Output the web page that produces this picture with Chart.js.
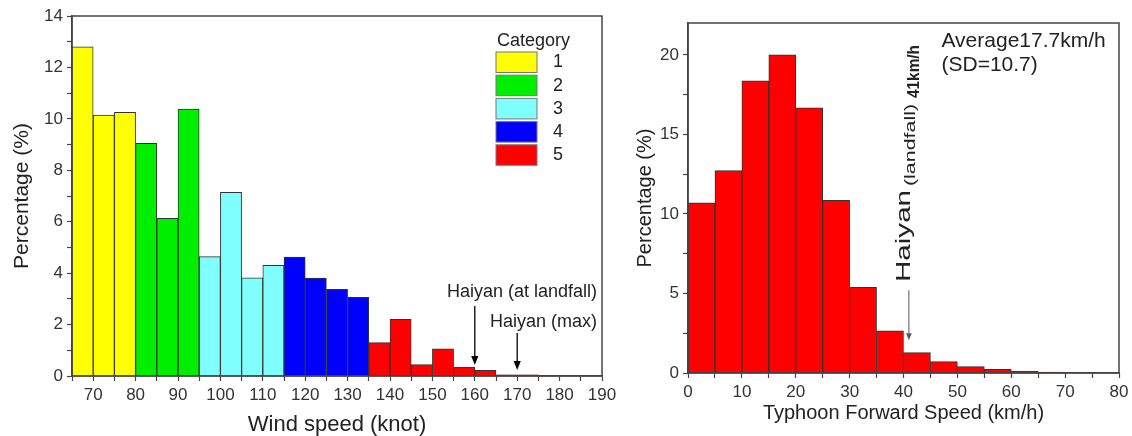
<!DOCTYPE html>
<html>
<head>
<meta charset="utf-8">
<title>Typhoon wind and forward speed</title>
<script src="https://cdn.jsdelivr.net/npm/chart.js@4.4.1/dist/chart.umd.min.js"></script>
<style>
  body { margin: 0; background: #fff; }
  #wrap { position: relative; width: 1132px; height: 436px; }
  canvas { position: absolute; top: 0; }
  #windChart { left: 0; }
  #speedChart { left: 620px; }
</style>
</head>
<body>
<div id="wrap">
  <canvas id="windChart" width="620" height="436"></canvas>
  <canvas id="speedChart" width="512" height="436"></canvas>
</div>
<script>
// Wind speed histogram (5 knot bins, value = bin start)
const windBins = [65, 70, 75, 80, 85, 90, 95, 100, 105, 110, 115, 120, 125, 130, 135, 140, 145, 150, 155, 160, 165, 170, 175, 180];
const windPct = [12.8, 10.15, 10.25, 9.05, 6.13, 10.38, 4.64, 7.14, 3.82, 4.3, 4.62, 3.81, 3.37, 3.06, 1.3, 2.2, 0.44, 1.06, 0.35, 0.22, 0.05, 0.05, 0.02, 0.02];
const windCategory = [1, 1, 1, 2, 2, 2, 3, 3, 3, 3, 4, 4, 4, 4, 5, 5, 5, 5, 5, 5, 5, 5, 5, 5];
const categoryNames = ["1", "2", "3", "4", "5"];
const categoryColors = ["#ffff00", "#00ee00", "#80ffff", "#0000ff", "#ff0000"];

// Forward speed histogram (5 km/h bins, value = bin start)
const speedBins = [0, 5, 10, 15, 20, 25, 30, 35, 40, 45, 50, 55, 60, 65, 70, 75];
const speedPct = [10.7, 12.72, 18.37, 20.0, 16.67, 10.85, 5.38, 2.65, 1.28, 0.72, 0.4, 0.23, 0.12, 0.06, 0, 0];

const FONT = "'Liberation Sans', Arial, sans-serif";
const AXIS = "#444";
const TEXT = "#222";

// draw a vertical arrow pointing down
function arrow(ctx, x, y0, y1, color, head, lw) {
  ctx.save();
  ctx.strokeStyle = color;
  ctx.fillStyle = color;
  ctx.lineWidth = lw;
  ctx.beginPath();
  ctx.moveTo(x, y0);
  ctx.lineTo(x, y1 - head);
  ctx.stroke();
  ctx.beginPath();
  ctx.moveTo(x - head * 0.4, y1 - head);
  ctx.lineTo(x + head * 0.4, y1 - head);
  ctx.lineTo(x, y1);
  ctx.closePath();
  ctx.fill();
  ctx.restore();
}

// box around the plot area
const frame = {
  id: "frame",
  afterDatasetsDraw(chart) {
    const { ctx, chartArea: a } = chart;
    ctx.save();
    ctx.strokeStyle = AXIS;
    ctx.lineWidth = 1.5;
    ctx.strokeRect(a.left, a.top, a.right - a.left, a.bottom - a.top);
    ctx.restore();
  }
};

function tickFilter(step) {
  return scale => {
    scale.ticks = scale.ticks.filter(t => Math.abs(t.value / step - Math.round(t.value / step)) < 1e-6);
  };
}

function axisOpts(min, max, step, labelStep, title, titleSize, titlePad, extra) {
  return Object.assign({
    type: "linear",
    min: min,
    max: max,
    offset: false,
    grid: { display: true, drawOnChartArea: false, drawTicks: true, tickLength: 5, tickColor: AXIS, tickWidth: 1.2, offset: false },
    border: { display: true, color: AXIS, width: 1.5 },
    afterBuildTicks: tickFilter(step),
    ticks: {
      stepSize: step,
      autoSkip: false,
      maxRotation: 0,
      padding: 4,
      color: "#333",
      font: { family: FONT, size: 17 },
      callback: v => (Math.abs(v / labelStep - Math.round(v / labelStep)) < 1e-6 ? v : "")
    },
    title: {
      display: true,
      text: title,
      color: TEXT,
      font: { family: FONT, size: titleSize, lineHeight: 1 },
      padding: titlePad
    }
  }, extra || {});
}

// fixed axis size, no extra room for the end labels
function fixHeight(h) {
  return s => { s.height = h; s.paddingLeft = 0; s.paddingRight = 0; };
}
function fixWidth(w) {
  return s => { s.width = w; s.paddingTop = 0; s.paddingBottom = 0; };
}

// ---------- left chart ----------
const windLegend = {
  id: "windLegend",
  afterDraw(chart) {
    const { ctx, chartArea: a } = chart;
    const x = a.right - 106;
    ctx.save();
    ctx.fillStyle = TEXT;
    ctx.font = `18px ${FONT}`;
    ctx.textBaseline = "middle";
    ctx.textAlign = "left";
    ctx.fillText("Category", x + 1, a.top + 25);
    categoryNames.forEach((name, i) => {
      const top = a.top + 36 + i * 23.2;
      ctx.fillStyle = categoryColors[i];
      ctx.fillRect(x, top, 41, 20.5);
      ctx.strokeStyle = "#777";
      ctx.lineWidth = 1;
      ctx.strokeRect(x, top, 41, 20.5);
      ctx.fillStyle = TEXT;
      ctx.textAlign = "center";
      ctx.fillText(name, x + 62, top + 10.5);
      ctx.textAlign = "left";
    });
    ctx.restore();
  }
};

const windNotes = {
  id: "windNotes",
  afterDraw(chart) {
    const { ctx, chartArea: a, scales } = chart;
    const xs = scales.x, ys = scales.y;
    arrow(ctx, xs.getPixelForValue(160), ys.getPixelForValue(2.72), ys.getPixelForValue(0.43), "#000", 9, 1.3);
    arrow(ctx, xs.getPixelForValue(170), ys.getPixelForValue(1.67), ys.getPixelForValue(0.23), "#000", 9, 1.3);
    ctx.save();
    ctx.fillStyle = TEXT;
    ctx.font = `18px ${FONT}`;
    ctx.textAlign = "right";
    ctx.textBaseline = "middle";
    ctx.fillText("Haiyan (at landfall)", a.right - 5, ys.getPixelForValue(3.28));
    ctx.fillText("Haiyan (max)", a.right - 5, ys.getPixelForValue(2.11));
    ctx.restore();
  }
};

new Chart(document.getElementById("windChart"), {
  type: "bar",
  data: {
    datasets: [{
      data: windBins.map((b, i) => ({ x: b + 2.5, y: windPct[i] })),
      backgroundColor: windCategory.map(c => categoryColors[c - 1]),
      borderColor: "#333",
      borderWidth: 1,
      barPercentage: 1,
      categoryPercentage: 1,
      grouped: false
    }]
  },
  options: {
    responsive: false,
    animation: false,
    devicePixelRatio: 1,
    layout: { padding: { top: 16, right: 18, left: 0, bottom: 0 } },
    plugins: { legend: { display: false }, tooltip: { enabled: false } },
    scales: {
      x: axisOpts(65, 190, 5, 10, "Wind speed (knot)", 22, { top: 0, bottom: 0 }, {
        afterFit: fixHeight(60)
      }),
      y: axisOpts(0, 14, 1, 2, "Percentage (%)", 21, { top: 12, bottom: 0 }, {
        afterFit: fixWidth(72)
      })
    }
  },
  plugins: [frame, windLegend, windNotes]
});

// ---------- right chart ----------
const speedNotes = {
  id: "speedNotes",
  afterDraw(chart) {
    const { ctx, chartArea: a, scales } = chart;
    const xs = scales.x, ys = scales.y;
    const ax = xs.getPixelForValue(41);
    arrow(ctx, ax, ys.getPixelForValue(5.2), ys.getPixelForValue(2.06), "#555", 7, 1);

    ctx.save();
    ctx.fillStyle = TEXT;
    ctx.textBaseline = "middle";
    ctx.textAlign = "left";
    ctx.font = `21px ${FONT}`;
    ctx.fillText("Average17.7km/h", xs.getPixelForValue(47.05), a.top + 18);
    ctx.fillText("(SD=10.7)", xs.getPixelForValue(47.05), a.top + 42);

    // rotated label, each piece stretched to its length in the figure
    const pieces = [
      { text: "Haiyan", font: `20px ${FONT}`, from: a.top + 259, len: 92, base: ax + 1 },
      { text: "(landfall)", font: `14px ${FONT}`, from: a.top + 163, len: 82, base: ax + 6 },
      { text: "41km/h", font: `bold 17px ${FONT}`, from: a.top + 75, len: 53, base: ax + 10 }
    ];
    ctx.textBaseline = "alphabetic";
    pieces.forEach(p => {
      ctx.save();
      ctx.font = p.font;
      const w = ctx.measureText(p.text).width;
      ctx.translate(p.base, p.from);
      ctx.rotate(-Math.PI / 2);
      ctx.scale(p.len / w, 1);
      ctx.fillText(p.text, 0, 0);
      ctx.restore();
    });
    ctx.restore();
  }
};

new Chart(document.getElementById("speedChart"), {
  type: "bar",
  data: {
    datasets: [{
      data: speedBins.map((b, i) => ({ x: b + 2.5, y: speedPct[i] })),
      backgroundColor: "#ff0000",
      borderColor: "#333",
      borderWidth: 1,
      barPercentage: 1,
      categoryPercentage: 1,
      grouped: false
    }]
  },
  options: {
    responsive: false,
    animation: false,
    devicePixelRatio: 1,
    layout: { padding: { top: 23, right: 13, left: 0, bottom: 0 } },
    plugins: { legend: { display: false }, tooltip: { enabled: false } },
    scales: {
      x: axisOpts(0, 80, 5, 10, "Typhoon Forward Speed (km/h)", 20, { top: 0, bottom: 12.7 }, {
        afterFit: fixHeight(63)
      }),
      y: axisOpts(0, 22, 2.5, 5, "Percentage (%)", 20, { top: 15, bottom: 0 }, {
        afterFit: fixWidth(68)
      })
    }
  },
  plugins: [frame, speedNotes]
});
</script>
</body>
</html>
